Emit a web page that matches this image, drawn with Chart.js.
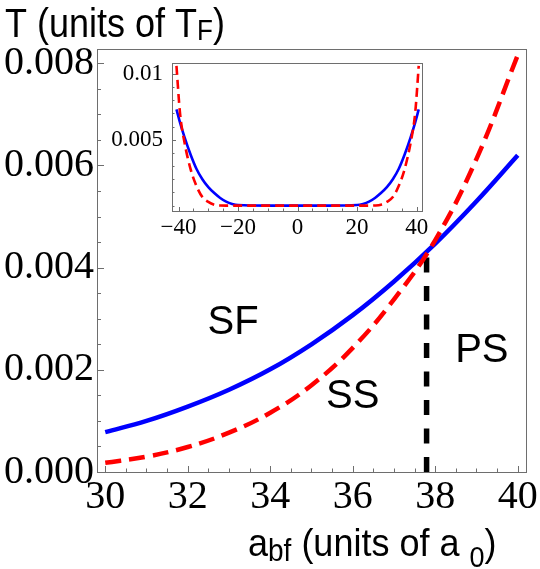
<!DOCTYPE html>
<html>
<head>
<meta charset="utf-8">
<script src="https://cdn.jsdelivr.net/npm/chart.js@4.4.0/dist/chart.umd.min.js"></script>
<style>
  html, body { margin: 0; padding: 0; background: #fff; }
  #wrap { position: relative; width: 540px; height: 569px; }
  #main { position: absolute; left: 0; top: 0; }
  #inset { position: absolute; left: 100px; top: 40px; }
</style>
</head>
<body>
<div id="wrap">
  <canvas id="main" width="540" height="569"></canvas>
  <canvas id="inset" width="335" height="205"></canvas>
</div>
<script>
// main panel: transition temperatures vs a_bf
const abf = [30, 31, 32, 33, 34, 35, 36, 37, 38, 39, 40]
const tSF = [0.00078, 0.00100, 0.00128, 0.00161, 0.00201, 0.00250, 0.00307, 0.00373, 0.00447, 0.00530, 0.00620]
const tSS = [0.00018, 0.00030, 0.00049, 0.00077, 0.00116, 0.00170, 0.00243, 0.00338, 0.00454, 0.00613, 0.00816]
const psX = [37.79, 37.79]
const psT = [0.0042, 0]

const xTicks = [30, 32, 34, 36, 38, 40]
const yTicks = [0, 0.002, 0.004, 0.006, 0.008]
const yTickLabels = ["0.000", "0.002", "0.004", "0.006", "0.008"]

const regionNames = ["SF", "SS", "PS"]
const regionX = [33.1, 36.0, 39.13]
const regionT = [0.00292, 0.00146, 0.00236]

// inset: same curves over a wider a_bf range
const insetX = [-40.7, -39.5, -38, -36, -34, -32, -30, -28, -26, -24, -22, -20, -10, 0, 10, 20, 22, 24, 26, 28, 30, 32, 34, 36, 38, 39.5, 40.7]
const insetSF = [0.0073, 0.0063, 0.0052, 0.0039, 0.0028, 0.0020, 0.0014, 0.00095, 0.00058, 0.0003, 0.00013, 0.00004, 0, 0, 0, 0.00004, 0.00013, 0.0003, 0.00058, 0.00095, 0.0014, 0.0020, 0.0028, 0.0039, 0.0052, 0.0063, 0.0073]
const insetSS = [0.0106, 0.0070, 0.0048, 0.0028, 0.0015, 0.00065, 0.00028, 0.00007, 0.00001, 0, 0, 0, 0, 0, 0, 0, 0, 0, 0.00001, 0.00007, 0.00028, 0.00065, 0.0015, 0.0028, 0.0048, 0.0070, 0.0106]
const insetXTicks = [-40, -20, 0, 20, 40]
const insetXLabels = ["\u221240", "\u221220", "0", "20", "40"]
const insetYTicks = [0.005, 0.01]
const insetYLabels = ["0.005", "0.01"]

const serif = "'Liberation Serif', 'Times New Roman', serif"
const sans = "'Liberation Sans', Arial, sans-serif"
const frameGray = "#6e6e6e"

const pts = (xs, ys) => xs.map((v, i) => ({ x: v, y: ys[i] }))
const range = (a, b, step) => { const out = []; for (let v = a; v <= b + 1e-9; v += step) out.push(+v.toFixed(6)); return out }

// frame with inward ticks, like the original plot
const frameTicks = {
  id: "frameTicks",
  beforeDatasetsDraw(chart, args, o) {
    const { ctx, chartArea: a, scales: { x, y } } = chart
    ctx.save()
    ctx.strokeStyle = frameGray
    ctx.lineWidth = 1
    ctx.strokeRect(Math.round(a.left) + 0.5, Math.round(a.top) + 0.5, Math.round(a.right - a.left), Math.round(a.bottom - a.top))
    ctx.beginPath()
    const xt = (vals, len) => vals.forEach(v => {
      const px = Math.round(x.getPixelForValue(v)) + 0.5
      ctx.moveTo(px, a.bottom); ctx.lineTo(px, a.bottom - len)
    })
    const yt = (vals, len) => vals.forEach(v => {
      const py = Math.round(y.getPixelForValue(v)) + 0.5
      ctx.moveTo(a.left, py); ctx.lineTo(a.left + len, py)
    })
    xt(o.xMinor, o.xMinorLen); xt(o.xMajor, o.xMajorLen)
    yt(o.yMinor, o.yMinorLen); yt(o.yMajor, o.yMajorLen)
    ctx.stroke()
    ctx.restore()
  }
}

// text with subscripts: parts = [[text, size, dy], ...]
function drawRich(ctx, parts, x0, base, sy) {
  ctx.save()
  ctx.translate(x0, base)
  ctx.scale(1, sy)
  ctx.textAlign = "left"
  ctx.textBaseline = "alphabetic"
  ctx.fillStyle = "#000"
  let cx = 0
  parts.forEach(([t, size, dy]) => {
    ctx.font = size + "px " + sans
    ctx.fillText(t, cx, dy / sy)
    cx += ctx.measureText(t).width
  })
  ctx.restore()
}

const labels = {
  id: "labels",
  afterDraw(chart) {
    const { ctx, scales: { x, y } } = chart
    ctx.save()
    ctx.fillStyle = "#000"
    ctx.font = "40px " + sans
    ctx.textAlign = "center"
    ctx.textBaseline = "middle"
    regionNames.forEach((n, i) => ctx.fillText(n, x.getPixelForValue(regionX[i]), y.getPixelForValue(regionT[i])))
    ctx.restore()
    drawRich(ctx, [["T (units of T", 36, 0], ["F", 26, 3], [")", 36, 0]], 5, 37, 1.15)
    drawRich(ctx, [["a", 36, 0], ["bf", 28, 5], [" (units of a ", 36, 0], ["0", 27, 11], [")", 36, 0]], 248, 556, 1.1)
  }
}

new Chart(document.getElementById("main"), {
  type: "line",
  data: {
    datasets: [
      { data: pts(abf, tSS), borderColor: "#ff0000", borderWidth: 4.5, borderDash: [16, 8], tension: 0.4 },
      { data: pts(abf, tSF), borderColor: "#0000ff", borderWidth: 4.5, tension: 0.4 },
      { data: pts(psX, psT), borderColor: "#000000", borderWidth: 5.5, borderDash: [15, 13.5], borderCapStyle: "butt" }
    ]
  },
  options: {
    responsive: false,
    animation: false,
    events: [],
    elements: { point: { radius: 0 } },
    layout: { padding: { left: 0, top: 49, right: 14, bottom: 0 } },
    plugins: {
      legend: { display: false },
      tooltip: { enabled: false },
      frameTicks: {
        xMajor: xTicks, xMinor: range(30, 40, 0.5), xMajorLen: 6, xMinorLen: 3.5,
        yMajor: yTicks, yMinor: range(0, 0.008, 0.0005), yMajorLen: 7, yMinorLen: 4
      }
    },
    scales: {
      x: {
        type: "linear", min: 29.8, max: 40.2,
        afterBuildTicks: s => { s.ticks = xTicks.map(v => ({ value: v })) },
        afterFit: s => { s.height = 97 },
        grid: { display: false, drawTicks: false },
        border: { display: false },
        ticks: { color: "#000", font: { family: serif, size: 40 }, padding: 1, maxRotation: 0, autoSkip: false, callback: v => String(v) }
      },
      y: {
        type: "linear", min: 0, max: 0.00828,
        afterBuildTicks: s => { s.ticks = yTicks.map(v => ({ value: v })) },
        afterFit: s => { s.width = 97 },
        grid: { display: false, drawTicks: false },
        border: { display: false },
        ticks: { color: "#000", font: { family: serif, size: 40 }, padding: 3, autoSkip: false, callback: (v, i) => yTickLabels[i] }
      }
    }
  },
  plugins: [frameTicks, labels]
})

new Chart(document.getElementById("inset"), {
  type: "line",
  data: {
    datasets: [
      { data: pts(insetX, insetSS), borderColor: "#ff0000", borderWidth: 2.6, borderDash: [9, 5], cubicInterpolationMode: "monotone" },
      { data: pts(insetX, insetSF), borderColor: "#0000ff", borderWidth: 2.6, cubicInterpolationMode: "monotone" }
    ]
  },
  options: {
    responsive: false,
    animation: false,
    events: [],
    elements: { point: { radius: 0 } },
    layout: { padding: { left: 0, top: 13, right: 13, bottom: 0 } },
    plugins: {
      legend: { display: false },
      tooltip: { enabled: false },
      frameTicks: {
        xMajor: insetXTicks, xMinor: range(-40, 40, 5), xMajorLen: 4, xMinorLen: 2.5,
        yMajor: insetYTicks, yMinor: range(0, 0.01, 0.001), yMajorLen: 4, yMinorLen: 2.5
      }
    },
    scales: {
      x: {
        type: "linear", min: -42.2, max: 41.8,
        afterBuildTicks: s => { s.ticks = insetXTicks.map(v => ({ value: v })) },
        afterFit: s => { s.height = 34 },
        grid: { display: false, drawTicks: false },
        border: { display: false },
        ticks: { color: "#000", font: { family: serif, size: 23 }, padding: 3, maxRotation: 0, autoSkip: false, callback: (v, i) => insetXLabels[i] }
      },
      y: {
        type: "linear", min: -0.00041, max: 0.01084,
        afterBuildTicks: s => { s.ticks = insetYTicks.map(v => ({ value: v })) },
        afterFit: s => { s.width = 72 },
        grid: { display: false, drawTicks: false },
        border: { display: false },
        ticks: { color: "#000", font: { family: serif, size: 23 }, padding: 9, autoSkip: false, callback: (v, i) => insetYLabels[i] }
      }
    }
  },
  plugins: [frameTicks]
})
</script>
</body>
</html>
